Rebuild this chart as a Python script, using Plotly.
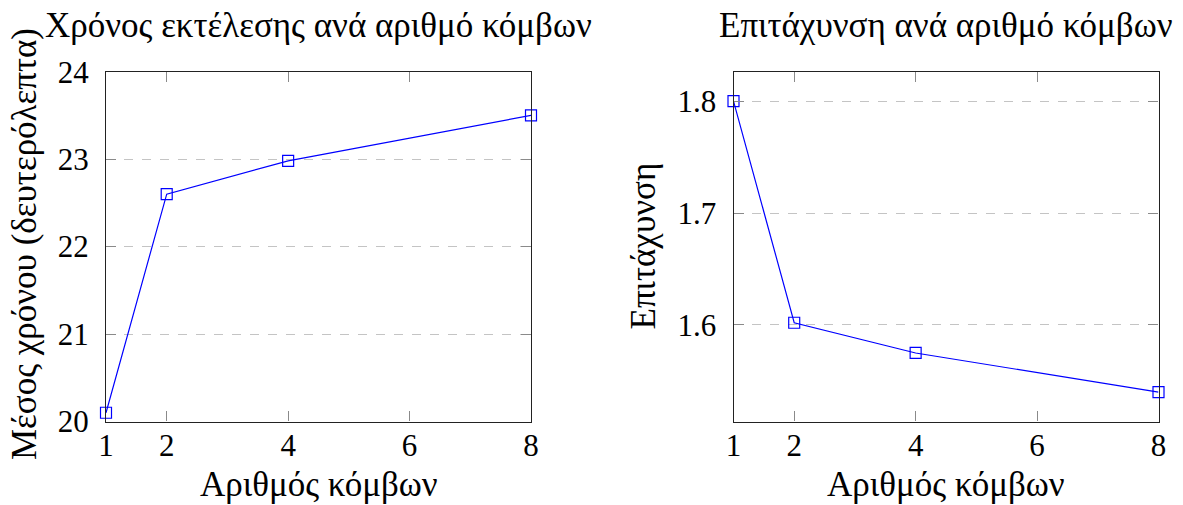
import plotly.graph_objects as go

nodes = [1, 2, 4, 8]
mean_time = [20.1, 22.6, 22.98, 23.5]
speedup = [1.8, 1.602, 1.575, 1.54]

x_ticks = [1, 2, 4, 6, 8]
left_yticks = [20, 21, 22, 23, 24]
right_yticks = [1.6, 1.7, 1.8]

title_left = "Χρόνος εκτέλεσης ανά αριθμό κόμβων"
title_right = "Επιτάχυνση ανά αριθμό κόμβων"
xlabel = "Αριθμός κόμβων"
ylabel_left = "Μέσος χρόνου (δευτερόλεπτα)"
ylabel_right = "Επιτάχυνση"

W, H = 1183, 505
FONT = "Liberation Serif"
FS_TICK = 31
FS_LABEL = 35

def px(x):
    return x / W

def py(y):
    return 1 - y / H

fig = go.Figure()
line_style = dict(color="#0000ff", width=1.2)
marker_style = dict(symbol="square-open", size=11, color="#0000ff", line=dict(width=1.2, color="#0000ff"))

fig.add_trace(go.Scatter(x=nodes, y=mean_time, mode="lines+markers", line=line_style,
                         marker=marker_style, xaxis="x", yaxis="y", showlegend=False, cliponaxis=False))
fig.add_trace(go.Scatter(x=nodes, y=speedup, mode="lines+markers", line=line_style,
                         marker=marker_style, xaxis="x2", yaxis="y2", showlegend=False, cliponaxis=False))

ydom = [py(421.5), py(71.7)]
common_x = dict(tickvals=x_ticks, ticktext=[str(v) for v in x_ticks], ticks="inside", ticklen=10,
                tickcolor="#8a8a8a", tickwidth=1, showline=True, linecolor="#222", linewidth=1.2,
                mirror="ticks", showgrid=False, zeroline=False, range=[1, 8],
                tickfont=dict(family=FONT, size=FS_TICK, color="#000"), ticklabelstandoff=-4,
                automargin=False, fixedrange=True)
common_y = dict(ticks="inside", ticklen=10, tickcolor="#8a8a8a", tickwidth=1, showline=True,
                linecolor="#222", linewidth=1.2, mirror="ticks", showgrid=True, gridcolor="#c4c4c4",
                griddash="dash", gridwidth=1.2, zeroline=False,
                tickfont=dict(family=FONT, size=FS_TICK, color="#000"), ticklabelstandoff=10,
                automargin=False, fixedrange=True, domain=ydom)

fig.update_layout(
    width=W, height=H,
    margin=dict(l=0, r=0, t=0, b=0),
    paper_bgcolor="white", plot_bgcolor="white",
    font=dict(family=FONT, size=FS_LABEL, color="#000"),
    xaxis=dict(domain=[px(106), px(531)], anchor="y", **common_x),
    yaxis=dict(anchor="x", range=[20, 24], tickvals=left_yticks,
               ticktext=[str(v) for v in left_yticks], **common_y),
    xaxis2=dict(domain=[px(733.5), px(1158.5)], anchor="y2", **common_x),
    yaxis2=dict(anchor="x2", range=[1.5138, 1.8262], tickvals=right_yticks,
                ticktext=[f"{v:.1f}" for v in right_yticks], **common_y),
    showlegend=False,
)

ann = dict(xref="paper", yref="paper", showarrow=False, font=dict(family=FONT, size=FS_LABEL, color="#000"))
fig.add_annotation(text=title_left, x=px(318.5), y=py(25), xanchor="center", yanchor="middle", **ann)
fig.add_annotation(text=title_right, x=px(946), y=py(25), xanchor="center", yanchor="middle", **ann)
fig.add_annotation(text=xlabel, x=px(318.5), y=py(484), xanchor="center", yanchor="middle", **ann)
fig.add_annotation(text=xlabel, x=px(946), y=py(484), xanchor="center", yanchor="middle", **ann)
fig.add_annotation(text=ylabel_left, x=px(24), y=py(244), xanchor="center", yanchor="middle",
                   textangle=-90, **ann)
fig.add_annotation(text=ylabel_right, x=px(643), y=py(246.5), xanchor="center", yanchor="middle",
                   textangle=-90, **ann)

fig.write_html("out.html")
